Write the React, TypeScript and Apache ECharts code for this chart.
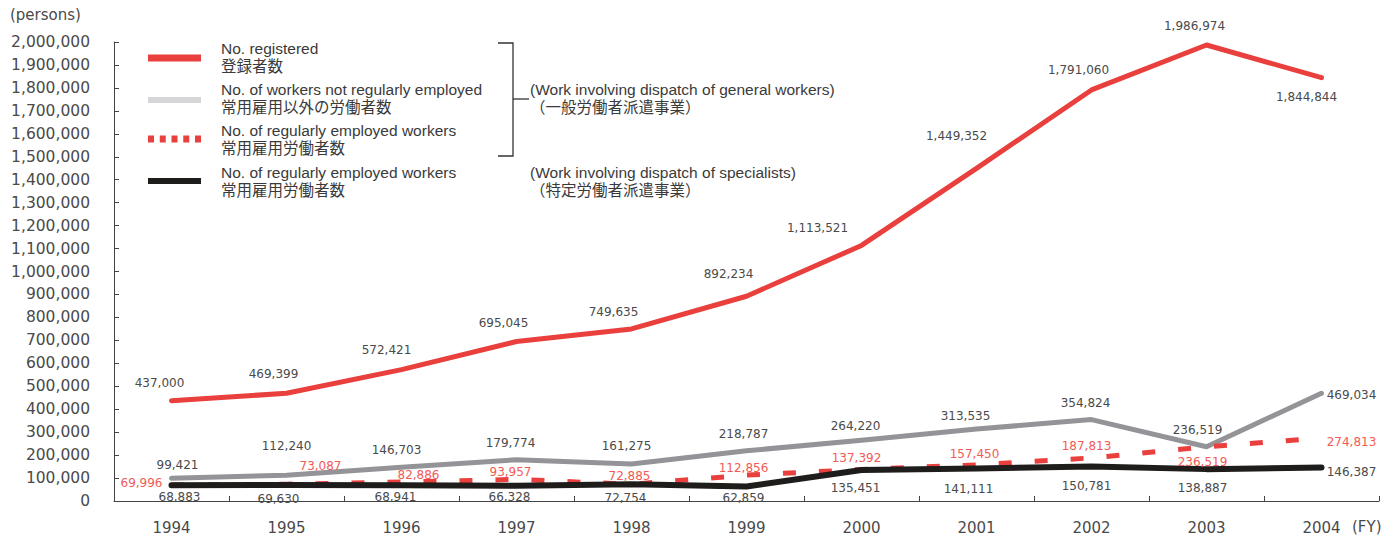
import React, { useEffect, useRef } from "react";
import * as echarts from "echarts";

const years = ["1994", "1995", "1996", "1997", "1998", "1999", "2000", "2001", "2002", "2003", "2004"];
const registered = [437000, 469399, 572421, 695045, 749635, 892234, 1113521, 1449352, 1791060, 1986974, 1844844];
const notRegular = [99421, 112240, 146703, 179774, 161275, 218787, 264220, 313535, 354824, 236519, 469034];
const regularGeneral = [69996, 73087, 82886, 93957, 72885, 112856, 137392, 157450, 187813, 236519, 274813];
const regularSpecialists = [68883, 69630, 68941, 66328, 72754, 62859, 135451, 141111, 150781, 138887, 146387];

const yTickMax = 2000000;
const yTickStep = 100000;

// label placement (style): offset of each label centre from its point
const regOff = [[-12, -18], [-13, -19], [-15, -20], [-13, -18], [-18, -17], [-18, -22], [-44, -17], [-20, -32], [-13, -20], [-12, -19], [-15, 19]];
const grayOff = [[6, -13], [0, -29], [-5, -17], [-6, -17], [-5, -18], [-3, -17], [-6, -14], [-11, -13], [-6, -17], [-9, -17], [30, 2]];
const dashOff = [[-30, -2], [34, -18], [17, -7], [-6, -7], [-2, -8], [-3, -7], [-5, -11], [-2, -11], [-5, -12], [-4, 15], [30, 4]];
const blackOff = [[8, 12], [-8, 14], [-6, 12], [-7, 11], [-6, 14], [-3, 11], [-6, 18], [-8, 20], [-5, 20], [-4, 19], [30, 5]];

const fmt = (v: number) => v.toLocaleString("en-US");

const RED = "#e9403d";
const GRAY = "#949498";
const BLACK = "#1f1c1c";
const TXT = "#4a4a4a";
const RED_TXT = "#f25a55";
const NUM_FONT = "DejaVu Sans";
const LEG_FONT = "'Liberation Sans', 'Noto Sans CJK JP', sans-serif";

function items(vals: number[], offs: number[][]) {
  return vals.map((v, i) => ({ value: v, label: { offset: offs[i] } }));
}

function lineSeries(name: string, vals: number[], offs: number[][], color: string, width: number, labelColor: string, dash?: number[]) {
  return {
    name,
    type: "line",
    data: items(vals, offs),
    symbol: "circle",
    symbolSize: 0,
    lineStyle: { color, width, type: dash ? dash : "solid", cap: dash ? "butt" : "round", join: "round" },
    itemStyle: { color },
    label: {
      show: true,
      position: "inside",
      align: "center",
      verticalAlign: "middle",
      color: labelColor,
      fontFamily: NUM_FONT,
      fontSize: 12,
      formatter: (p: any) => fmt(p.value),
    },
    emphasis: { disabled: true },
  };
}

export default function App() {
  const ref = useRef<HTMLDivElement>(null);
  useEffect(() => {
    if (!ref.current) return;
    const chart = echarts.init(ref.current, null, { renderer: "svg" });
    const legendText = (x: number, y: number, t: string) => ({
      type: "text",
      x,
      y,
      style: { text: t, fill: "#3a3a3a", font: `15.5px ${LEG_FONT}`, verticalAlign: "middle" },
    });
    const option: any = {
      animation: false,
      backgroundColor: "#ffffff",
      grid: { left: 114, right: 3, top: 42, bottom: 37, containLabel: false },
      xAxis: {
        type: "category",
        data: years,
        boundaryGap: true,
        axisLine: { lineStyle: { color: "#444", width: 1 } },
        axisTick: { show: true, inside: true, length: 5, lineStyle: { color: "#444" } },
        axisLabel: { color: TXT, fontFamily: NUM_FONT, fontSize: 15, margin: 19 },
        splitLine: { show: false },
      },
      yAxis: {
        type: "value",
        min: 0,
        max: yTickMax,
        interval: yTickStep,
        axisLine: { show: true, lineStyle: { color: "#444", width: 1 } },
        axisTick: { show: true, inside: true, length: 5, lineStyle: { color: "#444" } },
        axisLabel: { color: TXT, fontFamily: NUM_FONT, fontSize: 15.5, margin: 24, formatter: (v: number) => fmt(v) },
        splitLine: { show: false },
      },
      series: [
        lineSeries("常用雇用以外の労働者数", notRegular, grayOff, GRAY, 5, TXT),
        lineSeries("登録者数", registered, regOff, RED, 5, TXT),
        lineSeries("常用雇用労働者数（一般）", regularGeneral, dashOff, RED, 5, RED_TXT, [13, 23]),
        lineSeries("常用雇用労働者数（特定）", regularSpecialists, blackOff, BLACK, 6, TXT),
      ],
      graphic: [
        { type: "text", x: 10, y: 15, style: { text: "(persons)", fill: TXT, font: `15px ${NUM_FONT}`, verticalAlign: "middle" } },
        { type: "text", x: 1352, y: 527, style: { text: "(FY)", fill: TXT, font: `15px ${NUM_FONT}`, verticalAlign: "middle" } },
        // legend samples
        { type: "line", shape: { x1: 148, y1: 58, x2: 201, y2: 58 }, style: { stroke: RED, lineWidth: 7 } },
        { type: "line", shape: { x1: 148, y1: 100, x2: 201, y2: 100 }, style: { stroke: "#d6d6d8", lineWidth: 6 } },
        { type: "line", shape: { x1: 148, y1: 139, x2: 201, y2: 139 }, style: { stroke: RED, lineWidth: 7, lineDash: [6, 5.75] } },
        { type: "line", shape: { x1: 148, y1: 181, x2: 201, y2: 181 }, style: { stroke: BLACK, lineWidth: 6 } },
        legendText(221, 48, "No. registered"),
        legendText(221, 66, "登録者数"),
        legendText(221, 89, "No. of workers not regularly employed"),
        legendText(221, 107, "常用雇用以外の労働者数"),
        legendText(221, 130, "No. of regularly employed workers"),
        legendText(221, 148, "常用雇用労働者数"),
        legendText(221, 172, "No. of regularly employed workers"),
        legendText(221, 190, "常用雇用労働者数"),
        // bracket
        { type: "polyline", shape: { points: [[498, 43], [513, 43], [513, 156], [498, 156]] }, style: { stroke: "#333", lineWidth: 1.3, fill: null } },
        { type: "line", shape: { x1: 513, y1: 99, x2: 529, y2: 99 }, style: { stroke: "#333", lineWidth: 1.3 } },
        legendText(530, 89, "(Work involving dispatch of general workers)"),
        legendText(530, 107, "（一般労働者派遣事業）"),
        legendText(530, 172, "(Work involving dispatch of specialists)"),
        legendText(530, 190, "（特定労働者派遣事業）"),
      ],
    };
    chart.setOption(option);
    return () => chart.dispose();
  }, []);
  return <div ref={ref} style={{ position: "absolute", left: 0, top: 0, width: 1382, height: 538 }} />;
}
